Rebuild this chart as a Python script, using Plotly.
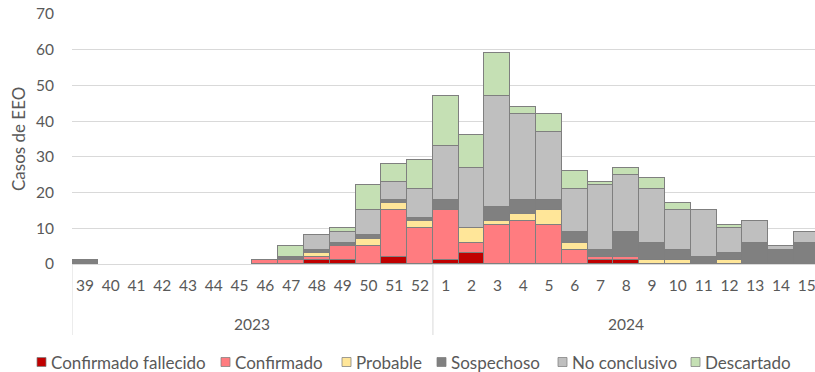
import plotly.graph_objects as go

# Epidemiological weeks (2023: 39-52, 2024: 1-15)
weeks_2023 = [str(w) for w in range(39, 53)]
weeks_2024 = [str(w) for w in range(1, 16)]
weeks = weeks_2023 + weeks_2024
years = ["2023", "2024"]

# Case counts per week and classification
confirmado_fallecido = [0, 0, 0, 0, 0, 0, 0, 0, 0, 1, 1, 0, 2, 0,
                        1, 3, 0, 0, 0, 0, 1, 1, 0, 0, 0, 0, 0, 0, 0]
confirmado = [0, 0, 0, 0, 0, 0, 0, 1, 1, 1, 4, 5, 13, 10,
              14, 3, 11, 12, 11, 4, 1, 1, 0, 0, 0, 0, 0, 0, 0]
probable = [0, 0, 0, 0, 0, 0, 0, 0, 0, 1, 0, 2, 2, 2,
            0, 4, 1, 2, 4, 2, 0, 0, 1, 1, 0, 1, 0, 0, 0]
sospechoso = [1, 0, 0, 0, 0, 0, 0, 0, 1, 1, 1, 1, 1, 1,
              3, 0, 4, 4, 3, 3, 2, 7, 5, 3, 2, 2, 6, 4, 6]
no_conclusivo = [0, 0, 0, 0, 0, 0, 0, 0, 0, 4, 3, 7, 5, 8,
                 15, 17, 31, 24, 19, 12, 18, 16, 15, 11, 13, 7, 6, 1, 3]
descartado = [0, 0, 0, 0, 0, 0, 0, 0, 3, 0, 1, 7, 5, 8,
              14, 9, 12, 2, 5, 5, 1, 2, 3, 2, 0, 1, 0, 0, 0]

series_names = ["Confirmado fallecido", "Confirmado", "Probable",
                "Sospechoso", "No conclusivo", "Descartado"]
series_values = [confirmado_fallecido, confirmado, probable,
                 sospechoso, no_conclusivo, descartado]
series_colors = ["#C00000", "#FF7C80", "#FFE699",
                 "#808080", "#BFBFBF", "#C5E0B4"]

FONT = "Lato, 'DejaVu Sans', sans-serif"
TEXT_COLOR = "#595959"
FS_NUM = 15.5   # numeric labels
FS_TXT = 17     # word labels
EDGE = "#7F7F7F"

fig = go.Figure()
for name, vals, color in zip(series_names, series_values, series_colors):
    fig.add_trace(go.Bar(
        x=weeks,
        y=[v if v else None for v in vals],
        name=name,
        marker=dict(color=color, line=dict(color=EDGE, width=1.5)),
        showlegend=False,
    ))

L, T, B = 72, 14, 108
W, H = 815, 372
plot_h = H - T - B

fig.update_layout(
    width=W, height=H,
    margin=dict(l=L, r=0, t=T, b=B, pad=0),
    paper_bgcolor="white", plot_bgcolor="white",
    barmode="stack", bargap=0,
    font=dict(family=FONT, size=FS_NUM, color=TEXT_COLOR),
    xaxis=dict(
        type="category",
        range=[-0.5, len(weeks) - 0.5 - 0.18],
        tickmode="array", tickvals=weeks, ticktext=weeks,
        showgrid=False, showline=False, ticks="",
        ticklabelstandoff=10,
        tickfont=dict(family=FONT, size=FS_NUM, color=TEXT_COLOR),
    ),
    yaxis=dict(
        range=[0, 70], dtick=10,
        showgrid=True, gridcolor="#D9D9D9", gridwidth=1,
        zeroline=True, zerolinecolor="#D9D9D9", zerolinewidth=1,
        showline=False, ticks="",
        ticklabelstandoff=17,
        tickfont=dict(family=FONT, size=FS_NUM, color=TEXT_COLOR),
    ),
)

# Y axis title
fig.add_annotation(
    text="Casos de EEO", xref="paper", yref="paper", x=0, y=0.5,
    xshift=-54, textangle=-90, showarrow=False,
    xanchor="center", yanchor="middle",
    font=dict(family=FONT, size=FS_TXT, color=TEXT_COLOR),
)

# Year group dividers and labels
n23 = len(weeks_2023)
for xpos in [-0.5, n23 - 0.5]:
    fig.add_shape(type="line", xref="x", yref="paper",
                  x0=xpos, x1=xpos, y0=0, y1=-(335 - (H - B)) / plot_h,
                  line=dict(color="#D9D9D9", width=1))
centers = [(n23 - 1) / 2, n23 + (len(weeks_2024) - 1) / 2]
for yr, cx in zip(years, centers):
    fig.add_annotation(
        text=yr, xref="x", yref="paper", x=cx, y=-(324 - (H - B)) / plot_h,
        showarrow=False, xanchor="center", yanchor="middle",
        font=dict(family=FONT, size=FS_NUM, color=TEXT_COLOR),
    )

# Legend row
legend_square_px = [37, 221, 342, 437, 558, 691]
legend_y_px = 362
sq = 9
for name, color, px in zip(series_names, series_colors, legend_square_px):
    fig.add_shape(
        type="rect", xref="paper", yref="paper",
        xsizemode="pixel", ysizemode="pixel", xanchor=0, yanchor=0,
        x0=px - L, x1=px - L + sq,
        y0=(H - B) - legend_y_px - sq / 2, y1=(H - B) - legend_y_px + sq / 2,
        fillcolor=color, line=dict(color=EDGE, width=0.75),
    )
    fig.add_annotation(
        text=name, xref="paper", yref="paper", x=0, y=0,
        xshift=px - L + sq + 3, yshift=(H - B) - legend_y_px,
        showarrow=False, xanchor="left", yanchor="middle",
        font=dict(family=FONT, size=FS_TXT, color=TEXT_COLOR),
    )

fig.write_html("out.html")
